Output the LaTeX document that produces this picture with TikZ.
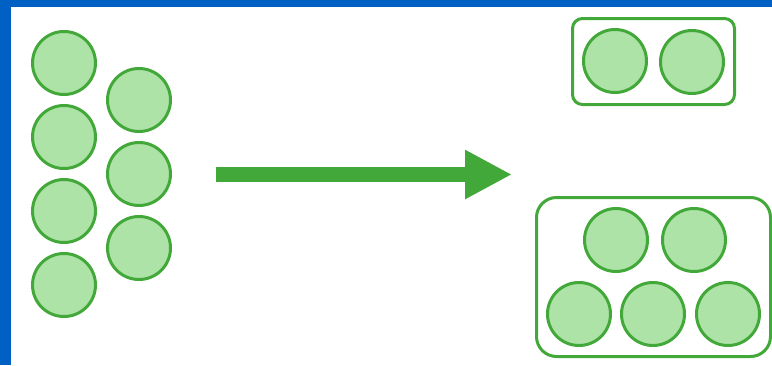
\documentclass[tikz,border=0pt]{standalone}
\usetikzlibrary{arrows.meta,fit}
\definecolor{ballfill}{HTML}{ADE3A6}
\definecolor{balldraw}{HTML}{43A83A}
\definecolor{frameblue}{HTML}{0060C4}
\begin{document}
\begin{tikzpicture}[x=1pt,y=-1pt,
  ball/.style={circle,draw=balldraw,fill=ballfill,line width=3pt,
    minimum size=63pt,inner sep=0pt,outer sep=0pt},
  group/.style={draw=balldraw,line width=3pt,inner sep=11pt},
  bigarrow/.style={draw=balldraw,line width=15pt,
    -{Triangle[length=47pt,width=46pt]}}]
\useasboundingbox (0,0) rectangle (772,365);
\fill[white] (0,0) rectangle (772,365);
\fill[frameblue] (0,0) rectangle (772,7);
\fill[frameblue] (0,0) rectangle (11,365);
% balls before
\foreach \name/\x/\y in {a1/64/63,a2/64/137,a3/64/211,a4/64/285,
  b1/139/100,b2/139/174,b3/139/248}{
 \node[ball] (\name) at (\x,\y) {};}
% arrow
\coordinate (from) at (216,174.5);
\coordinate (to) at (512,174.5);
\draw[bigarrow] (from) -- (to);
% balls after
\foreach \name/\x/\y in {p1/615/61,p2/692/62,
  q1/616/240,q2/694/240,r1/579/314,r2/653/314,r3/728/314}{
 \node[ball] (\name) at (\x,\y) {};}
\node[group,rounded corners=10pt,fit=(p1)(p2)] (pair) {};
\node[group,rounded corners=20pt,fit=(q1)(q2)(r1)(r2)(r3)] (five) {};
\end{tikzpicture}
\end{document}
